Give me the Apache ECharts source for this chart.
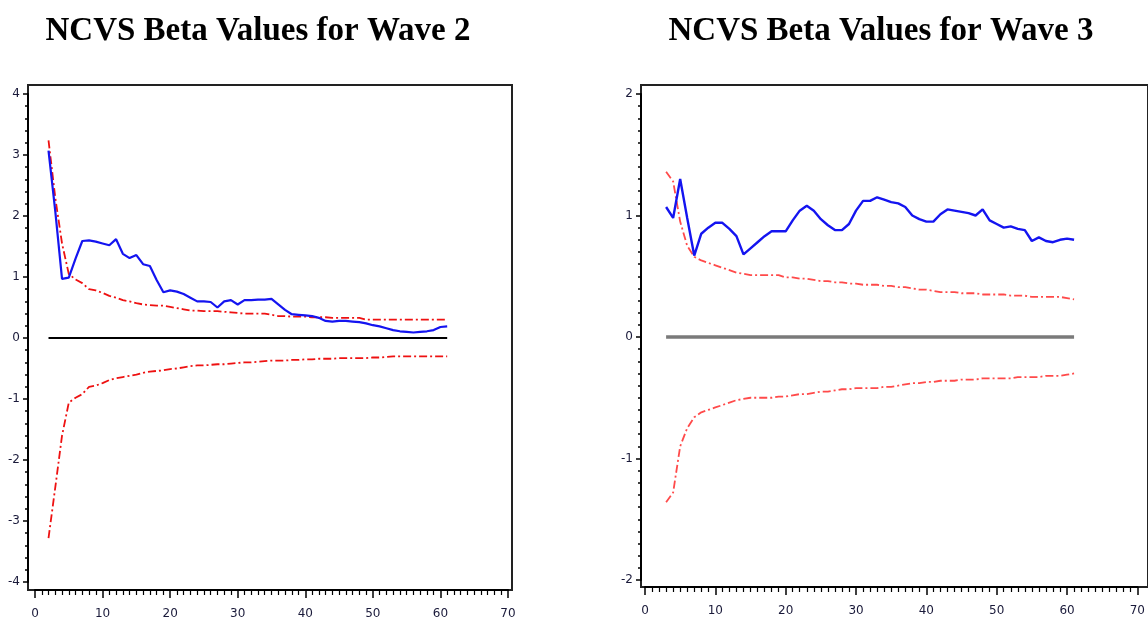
<!DOCTYPE html>
<html>
<head>
<meta charset="utf-8">
<title>NCVS Beta Values</title>
<script src="https://cdn.jsdelivr.net/npm/echarts@6/dist/echarts.min.js"></script>
<style>
  html, body { margin: 0; padding: 0; background: #fff; }
  #chart { width: 1148px; height: 621px; }
</style>
</head>
<body>
<div id="chart"></div>
<script>
  // Wave 2: beta values for x = 2..61
  const wave2Start = 2;
  const wave2Beta = [
    3.07, 2.08, 0.97, 0.99, 1.30, 1.59, 1.60, 1.58, 1.55, 1.52,
    1.62, 1.38, 1.31, 1.36, 1.21, 1.18, 0.95, 0.75, 0.78, 0.76,
    0.72, 0.66, 0.60, 0.60, 0.59, 0.50, 0.60, 0.62, 0.55, 0.62,
    0.62, 0.63, 0.63, 0.64, 0.55, 0.46, 0.39, 0.38, 0.37, 0.36,
    0.33, 0.28, 0.27, 0.28, 0.28, 0.27, 0.26, 0.24, 0.21, 0.19,
    0.16, 0.13, 0.11, 0.10, 0.09, 0.10, 0.11, 0.13, 0.18, 0.19
  ];
  const wave2Upper = [
    3.24, 2.30, 1.55, 1.05, 0.96, 0.90, 0.80, 0.78, 0.74, 0.69,
    0.66, 0.62, 0.60, 0.57, 0.55, 0.54, 0.53, 0.53, 0.51, 0.49,
    0.47, 0.45, 0.45, 0.44, 0.44, 0.44, 0.43, 0.42, 0.41, 0.40,
    0.40, 0.40, 0.40, 0.38, 0.36, 0.36, 0.35, 0.35, 0.35, 0.34,
    0.34, 0.34, 0.33, 0.33, 0.33, 0.33, 0.33, 0.30, 0.30, 0.30,
    0.30, 0.30, 0.30, 0.30, 0.30, 0.30, 0.30, 0.30, 0.30, 0.30
  ];
  const wave2Lower = [
    -3.28, -2.45, -1.60, -1.06, -0.98, -0.92, -0.80, -0.78, -0.74, -0.69,
    -0.66, -0.64, -0.62, -0.60, -0.57, -0.55, -0.54, -0.53, -0.51, -0.50,
    -0.48, -0.46, -0.45, -0.45, -0.44, -0.43, -0.43, -0.42, -0.41, -0.40,
    -0.40, -0.39, -0.38, -0.37, -0.37, -0.37, -0.36, -0.36, -0.35, -0.35,
    -0.34, -0.34, -0.34, -0.33, -0.33, -0.33, -0.33, -0.33, -0.32, -0.32,
    -0.31, -0.30, -0.30, -0.30, -0.30, -0.30, -0.30, -0.30, -0.30, -0.30
  ];

  // Wave 3: beta values for x = 3..61
  const wave3Start = 3;
  const wave3Beta = [
    1.07, 0.98, 1.30, 0.98, 0.67, 0.85, 0.90, 0.94, 0.94, 0.89,
    0.83, 0.68, 0.73, 0.78, 0.83, 0.87, 0.87, 0.87, 0.96, 1.04,
    1.08, 1.04, 0.97, 0.92, 0.88, 0.88, 0.93, 1.04, 1.12, 1.12,
    1.15, 1.13, 1.11, 1.10, 1.07, 1.00, 0.97, 0.95, 0.95, 1.01,
    1.05, 1.04, 1.03, 1.02, 1.00, 1.05, 0.96, 0.93, 0.90, 0.91,
    0.89, 0.88, 0.79, 0.82, 0.79, 0.78, 0.80, 0.81, 0.80
  ];
  const wave3Upper = [
    1.36, 1.28, 0.95, 0.75, 0.66, 0.63, 0.61, 0.59, 0.57, 0.55,
    0.53, 0.52, 0.51, 0.51, 0.51, 0.51, 0.51, 0.49, 0.49, 0.48,
    0.48, 0.47, 0.46, 0.46, 0.45, 0.45, 0.44, 0.44, 0.43, 0.43,
    0.43, 0.42, 0.42, 0.41, 0.41, 0.40, 0.39, 0.39, 0.38, 0.37,
    0.37, 0.37, 0.36, 0.36, 0.36, 0.35, 0.35, 0.35, 0.35, 0.34,
    0.34, 0.34, 0.33, 0.33, 0.33, 0.33, 0.33, 0.32, 0.31
  ];
  const wave3Lower = [
    -1.36, -1.28, -0.90, -0.75, -0.66, -0.62, -0.60, -0.58, -0.56, -0.54,
    -0.52, -0.51, -0.50, -0.50, -0.50, -0.50, -0.49, -0.49, -0.48, -0.47,
    -0.47, -0.46, -0.45, -0.45, -0.44, -0.43, -0.43, -0.42, -0.42, -0.42,
    -0.42, -0.41, -0.41, -0.40, -0.39, -0.38, -0.38, -0.37, -0.37, -0.36,
    -0.36, -0.36, -0.35, -0.35, -0.35, -0.34, -0.34, -0.34, -0.34, -0.34,
    -0.33, -0.33, -0.33, -0.33, -0.32, -0.32, -0.32, -0.31, -0.30
  ];

  const titles = ['NCVS Beta Values for Wave 2', 'NCVS Beta Values for Wave 3'];
  const xTicks = { min: 0, max: 70, interval: 10 };
  const wave2YTicks = { min: -4, max: 4, interval: 1 };
  const wave3YTicks = { min: -2, max: 2, interval: 1 };

  const toPairs = (start, values) => values.map((v, i) => [start + i, v]);
  const zeroLine = (start, values) => [[start, 0], [start + values.length - 1, 0]];

  const chart = echarts.init(document.getElementById('chart'));

  const labelStyle = { color: '#1a1a3a', fontSize: 12, fontFamily: 'DejaVu Sans' };

  const valueXAxis = (gridIndex) => ({
    type: 'value',
    gridIndex,
    min: xTicks.min,
    max: xTicks.max,
    interval: xTicks.interval,
    offset: 8,
    axisLine: { show: true, onZero: false, lineStyle: { color: '#000', width: 2 } },
    axisTick: { show: true, length: 8, lineStyle: { color: '#000', width: 1.5 } },
    minorTick: { show: true, splitNumber: 10, length: 5, lineStyle: { color: '#000', width: 1.2 } },
    axisLabel: Object.assign({ margin: 18 }, labelStyle),
    splitLine: { show: false },
  });

  const valueYAxis = (gridIndex, ticks, minorSplit, offset) => ({
    type: 'value',
    gridIndex,
    min: ticks.min,
    max: ticks.max,
    interval: ticks.interval,
    offset,
    axisLine: { show: true, onZero: false, lineStyle: { color: '#000', width: 2 } },
    axisTick: { show: true, length: 5, lineStyle: { color: '#000', width: 1.5 } },
    minorTick: { show: true, splitNumber: minorSplit, length: 3, lineStyle: { color: '#000', width: 1.5 } },
    axisLabel: Object.assign({ margin: 8 }, labelStyle),
    splitLine: { show: false },
  });

  const hiddenAxis = (gridIndex) => ({ type: 'value', gridIndex, show: false, min: 0, max: 1 });

  const option = {
    animation: false,
    backgroundColor: '#fff',
    title: titles.map((t, i) => ({
      text: t,
      left: i === 0 ? 258 : 881,
      top: 15,
      padding: 0,
      textAlign: 'center',
      textStyle: {
        fontFamily: 'Liberation Serif',
        fontWeight: 'bold',
        fontSize: 33,
        color: '#000',
      },
    })),
    grid: [
      // left plot area (tick range) and its frame
      { left: 35, top: 94, width: 473, height: 488 },
      { left: 28, top: 85, width: 484, height: 505, show: true, borderColor: '#222', borderWidth: 2, backgroundColor: 'transparent', z: 0 },
      // right plot area and its frame
      { left: 645, top: 94, width: 495, height: 486 },
      { left: 641, top: 85, width: 515, height: 502, show: true, borderColor: '#222', borderWidth: 2, backgroundColor: 'transparent', z: 0 },
    ],
    xAxis: [
      valueXAxis(0),
      hiddenAxis(1),
      Object.assign(valueXAxis(2), { offset: 7 }),
      hiddenAxis(3),
    ],
    yAxis: [
      valueYAxis(0, wave2YTicks, 5, 7),
      hiddenAxis(1),
      valueYAxis(2, wave3YTicks, 10, 4),
      hiddenAxis(3),
    ],
    series: [
      {
        name: 'Zero', type: 'line', xAxisIndex: 0, yAxisIndex: 0,
        data: zeroLine(wave2Start, wave2Beta), showSymbol: false,
        lineStyle: { color: '#000', width: 2 },
      },
      {
        name: 'Upper', type: 'line', xAxisIndex: 0, yAxisIndex: 0,
        data: toPairs(wave2Start, wave2Upper), showSymbol: false,
        lineStyle: { color: '#ee1111', width: 1.8, type: [8, 3, 2, 3] },
      },
      {
        name: 'Lower', type: 'line', xAxisIndex: 0, yAxisIndex: 0,
        data: toPairs(wave2Start, wave2Lower), showSymbol: false,
        lineStyle: { color: '#ee1111', width: 1.8, type: [8, 3, 2, 3] },
      },
      {
        name: 'Beta', type: 'line', xAxisIndex: 0, yAxisIndex: 0,
        data: toPairs(wave2Start, wave2Beta), showSymbol: false,
        lineStyle: { color: '#1414f0', width: 2.2 },
      },
      {
        name: 'Zero', type: 'line', xAxisIndex: 2, yAxisIndex: 2,
        data: zeroLine(wave3Start, wave3Beta), showSymbol: false,
        lineStyle: { color: '#7a7a7a', width: 3.5 },
      },
      {
        name: 'Upper', type: 'line', xAxisIndex: 2, yAxisIndex: 2,
        data: toPairs(wave3Start, wave3Upper), showSymbol: false,
        lineStyle: { color: '#ff4a4a', width: 1.8, type: [8, 3, 2, 3] },
      },
      {
        name: 'Lower', type: 'line', xAxisIndex: 2, yAxisIndex: 2,
        data: toPairs(wave3Start, wave3Lower), showSymbol: false,
        lineStyle: { color: '#ff4a4a', width: 1.8, type: [8, 3, 2, 3] },
      },
      {
        name: 'Beta', type: 'line', xAxisIndex: 2, yAxisIndex: 2,
        data: toPairs(wave3Start, wave3Beta), showSymbol: false,
        lineStyle: { color: '#1414f0', width: 2.4 },
      },
    ],
  };

  chart.setOption(option);
</script>
</body>
</html>
